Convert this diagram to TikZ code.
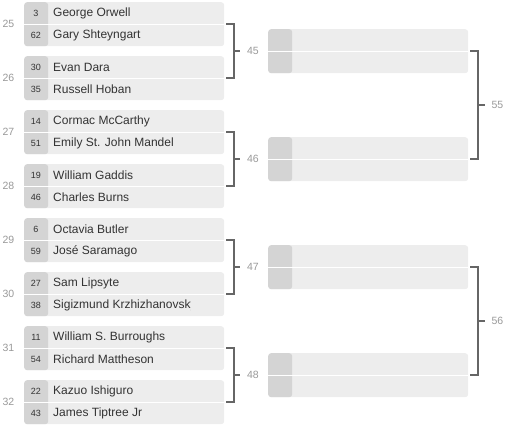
\documentclass[tikz,border=0pt]{standalone}
\usepackage{fontspec}
\setmainfont{Liberation Sans}
\usetikzlibrary{calc}
\definecolor{boxbg}{HTML}{EDEDED}
\definecolor{seedbg}{HTML}{D4D4D4}
\definecolor{nametxt}{HTML}{333333}
\definecolor{labtxt}{HTML}{999999}
\definecolor{brcol}{HTML}{666666}
\tikzset{
  match/.style={rectangle, rounded corners=3pt, fill=boxbg, draw=none,
    minimum width=200pt, minimum height=44pt, inner sep=0pt, anchor=north west,
    path picture={
      \fill[seedbg] (path picture bounding box.north west) rectangle ([xshift=24pt]path picture bounding box.south west);
      \draw[white, line width=1pt] (path picture bounding box.west) -- (path picture bounding box.east);
    }},
  nametext/.style={anchor=west, inner sep=0pt, text=nametxt, font=\fontsize{12}{14}\selectfont},
  seedtext/.style={inner sep=0pt, text=nametxt, font=\fontsize{9}{11}\selectfont},
  roundlab/.style={inner sep=0pt, text=labtxt, font=\fontsize{10.5}{12}\selectfont},
  brline/.style={draw=brcol, line width=2pt},
}
\begin{document}
\begin{tikzpicture}[x=1pt,y=-1pt]
\useasboundingbox (0,0) rectangle (508,438);
% round 1
\foreach \i/\r/\sa/\na/\sb/\nb in {
  0/25/3/George Orwell/62/Gary Shteyngart,
  1/26/30/Evan Dara/35/Russell Hoban,
  2/27/14/Cormac McCarthy/51/Emily St. John Mandel,
  3/28/19/William Gaddis/46/Charles Burns,
  4/29/6/Octavia Butler/59/José Saramago,
  5/30/27/Sam Lipsyte/38/Sigizmund Krzhizhanovsky,
  6/31/11/William S. Burroughs/54/Richard Mattheson,
  7/32/22/Kazuo Ishiguro/43/James Tiptree Jr}{
  \pgfmathsetmacro{\top}{2+54*\i}
  \node[match] (m\i) at (24,\top) {};
  \node[seedtext] (sa\i) at (36,\top+11) {\sa};
  \node[seedtext] (sb\i) at (36,\top+33) {\sb};
  \begin{scope}
    \clip (52,\top) rectangle (190.5,\top+44);
    \node[nametext] (na\i) at (53,\top+11) {\na};
    \node[nametext] (nb\i) at (53,\top+33) {\nb};
  \end{scope}
  \node[roundlab] (rl\i) at (8.5,\top+22) {\r};
}
% round 2 boxes
\foreach \j in {0,1,2,3}{
  \pgfmathsetmacro{\top}{29+108*\j}
  \node[match] (r\j) at (268,\top) {};
}
% round 1 brackets
\foreach \j/\lab in {0/45,1/46,2/47,3/48}{
  \pgfmathtruncatemacro{\a}{2*\j}
  \pgfmathtruncatemacro{\b}{2*\j+1}
  \draw[brline] ([xshift=2pt]m\a.east) -- ([xshift=9.5pt]m\a.east) -- ([xshift=9.5pt]m\b.east) -- ([xshift=2pt]m\b.east);
  \draw[brline] ($([xshift=9.5pt]m\a.east)!0.5!([xshift=9.5pt]m\b.east)$) -- ++(6.5,0) coordinate (c\j);
  \node[roundlab, anchor=west] (b\lab) at ([xshift=6.5pt]c\j) {\lab};
}
% round 2 brackets
\foreach \k/\lab in {0/55,1/56}{
  \pgfmathtruncatemacro{\a}{2*\k}
  \pgfmathtruncatemacro{\b}{2*\k+1}
  \draw[brline] ([xshift=2pt]r\a.east) -- ([xshift=10pt]r\a.east) -- ([xshift=10pt]r\b.east) -- ([xshift=2pt]r\b.east);
  \draw[brline] ($([xshift=10pt]r\a.east)!0.5!([xshift=10pt]r\b.east)$) -- ++(7,0) coordinate (d\k);
  \node[roundlab, anchor=west] (b\lab) at ([xshift=6pt]d\k) {\lab};
}
\end{tikzpicture}
\end{document}
